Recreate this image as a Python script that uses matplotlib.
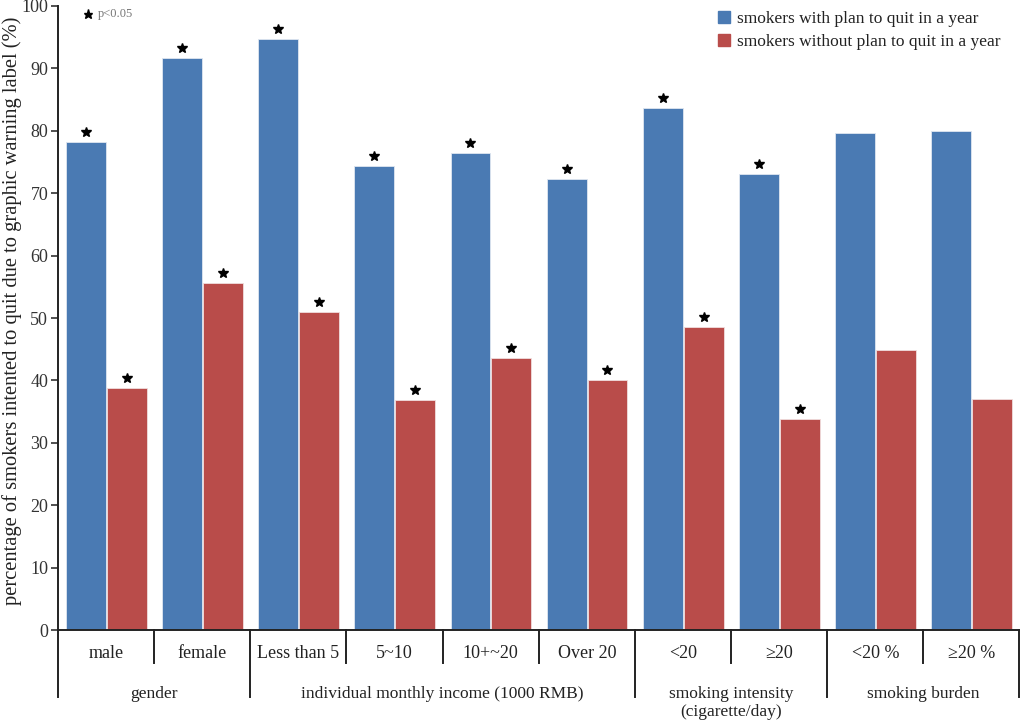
import matplotlib.pyplot as plt
import matplotlib.transforms as mtransforms
from matplotlib import patches

plt.rcParams["font.family"] = ["Liberation Serif", "DejaVu Serif"]

categories = ["male", "female", "Less than 5", "5~10", "10+~20", "Over 20",
              "<20", "≥20", "<20 %", "≥20 %"]
groups = ["gender", "individual monthly income (1000 RMB)",
          "smoking intensity\n(cigarette/day)", "smoking burden"]
group_spans = [(0, 1), (2, 5), (6, 7), (8, 9)]
with_plan = [78.2, 91.7, 94.7, 74.3, 76.4, 72.3, 83.7, 73.1, 79.6, 80.0]
without_plan = [38.8, 55.6, 50.9, 36.9, 43.6, 40.1, 48.6, 33.8, 44.9, 37.1]
significant = [True, True, True, True, True, True, True, True, False, False]

BLUE = "#4a7ab3"
RED = "#b94c4a"

fig = plt.figure(figsize=(10.24, 7.22), dpi=100)
ax = fig.add_axes([0.0566, 0.1274, 0.939, 0.8643])

x = list(range(len(categories)))
w = 0.415
ax.bar([i - 0.21 for i in x], with_plan, width=w, color=BLUE,
       edgecolor="#dfe6f0", linewidth=0.6)
ax.bar([i + 0.215 for i in x], without_plan, width=w, color=RED,
       edgecolor="#f0dede", linewidth=0.6)

# significance stars
for i, sig in enumerate(significant):
    if sig:
        ax.plot(i - 0.21, with_plan[i] + 1.6, marker="*", color="black",
                markersize=7.5, clip_on=False)
        ax.plot(i + 0.215, without_plan[i] + 1.6, marker="*", color="black",
                markersize=7.5, clip_on=False)

ax.set_xlim(-0.5, 9.5)
ax.set_ylim(0, 100)
ax.set_yticks(range(0, 101, 10))
ax.tick_params(axis="y", direction="out", length=5, width=1.2,
               labelsize=13, colors="#333333", pad=2)
ax.set_xticks([])
for side in ("top", "right"):
    ax.spines[side].set_visible(False)
ax.spines["left"].set_linewidth(1.4)
ax.spines["bottom"].set_linewidth(1.4)
ax.spines["left"].set_color("#222222")
ax.spines["bottom"].set_color("#222222")

fig.text(12 / 1024, 1 - 311 / 722,
         "percentage of smokers intented to quit due to graphic warning label (%)",
         rotation=90, ha="center", va="center", fontsize=14.8, color="#222222")

# category / group labels below the axis
trans = mtransforms.blended_transform_factory(ax.transData, ax.transAxes)
for i, label in enumerate(categories):
    ax.text(i, -0.038, label, transform=trans, ha="center", va="center",
            fontsize=13, color="#222222")
for label, (a, b) in zip(groups, group_spans):
    ax.text((a + b) / 2, -0.09, label, transform=trans, ha="center",
            va="top", fontsize=12.5, color="#222222", linespacing=1.15)

boundaries = [-0.5, 1.5, 5.5, 7.5, 9.5]
for i in range(len(categories) + 1):
    xb = i - 0.5
    depth = -0.107 if xb in boundaries else -0.053
    ax.plot([xb, xb], [0, depth], transform=trans, color="#222222",
            linewidth=1.4, clip_on=False)

# legends
handles = [patches.Patch(color=BLUE), patches.Patch(color=RED)]
leg = ax.legend(handles, ["smokers with plan to quit in a year",
                          "smokers without plan to quit in a year"],
                loc="upper left", bbox_to_anchor=(0.67, 1.017), frameon=False,
                fontsize=12.5, handlelength=0.7, handleheight=0.7,
                handletextpad=0.4, labelspacing=0.4)
for t in leg.get_texts():
    t.set_color("#222222")

ax.plot(0.031, 0.987, marker="*", color="black", markersize=6.5,
        transform=ax.transAxes, clip_on=False)
ax.text(0.042, 0.987, "p<0.05", transform=ax.transAxes, fontsize=9,
        color="#777777", va="center")

fig.savefig("out.png", dpi=100)
